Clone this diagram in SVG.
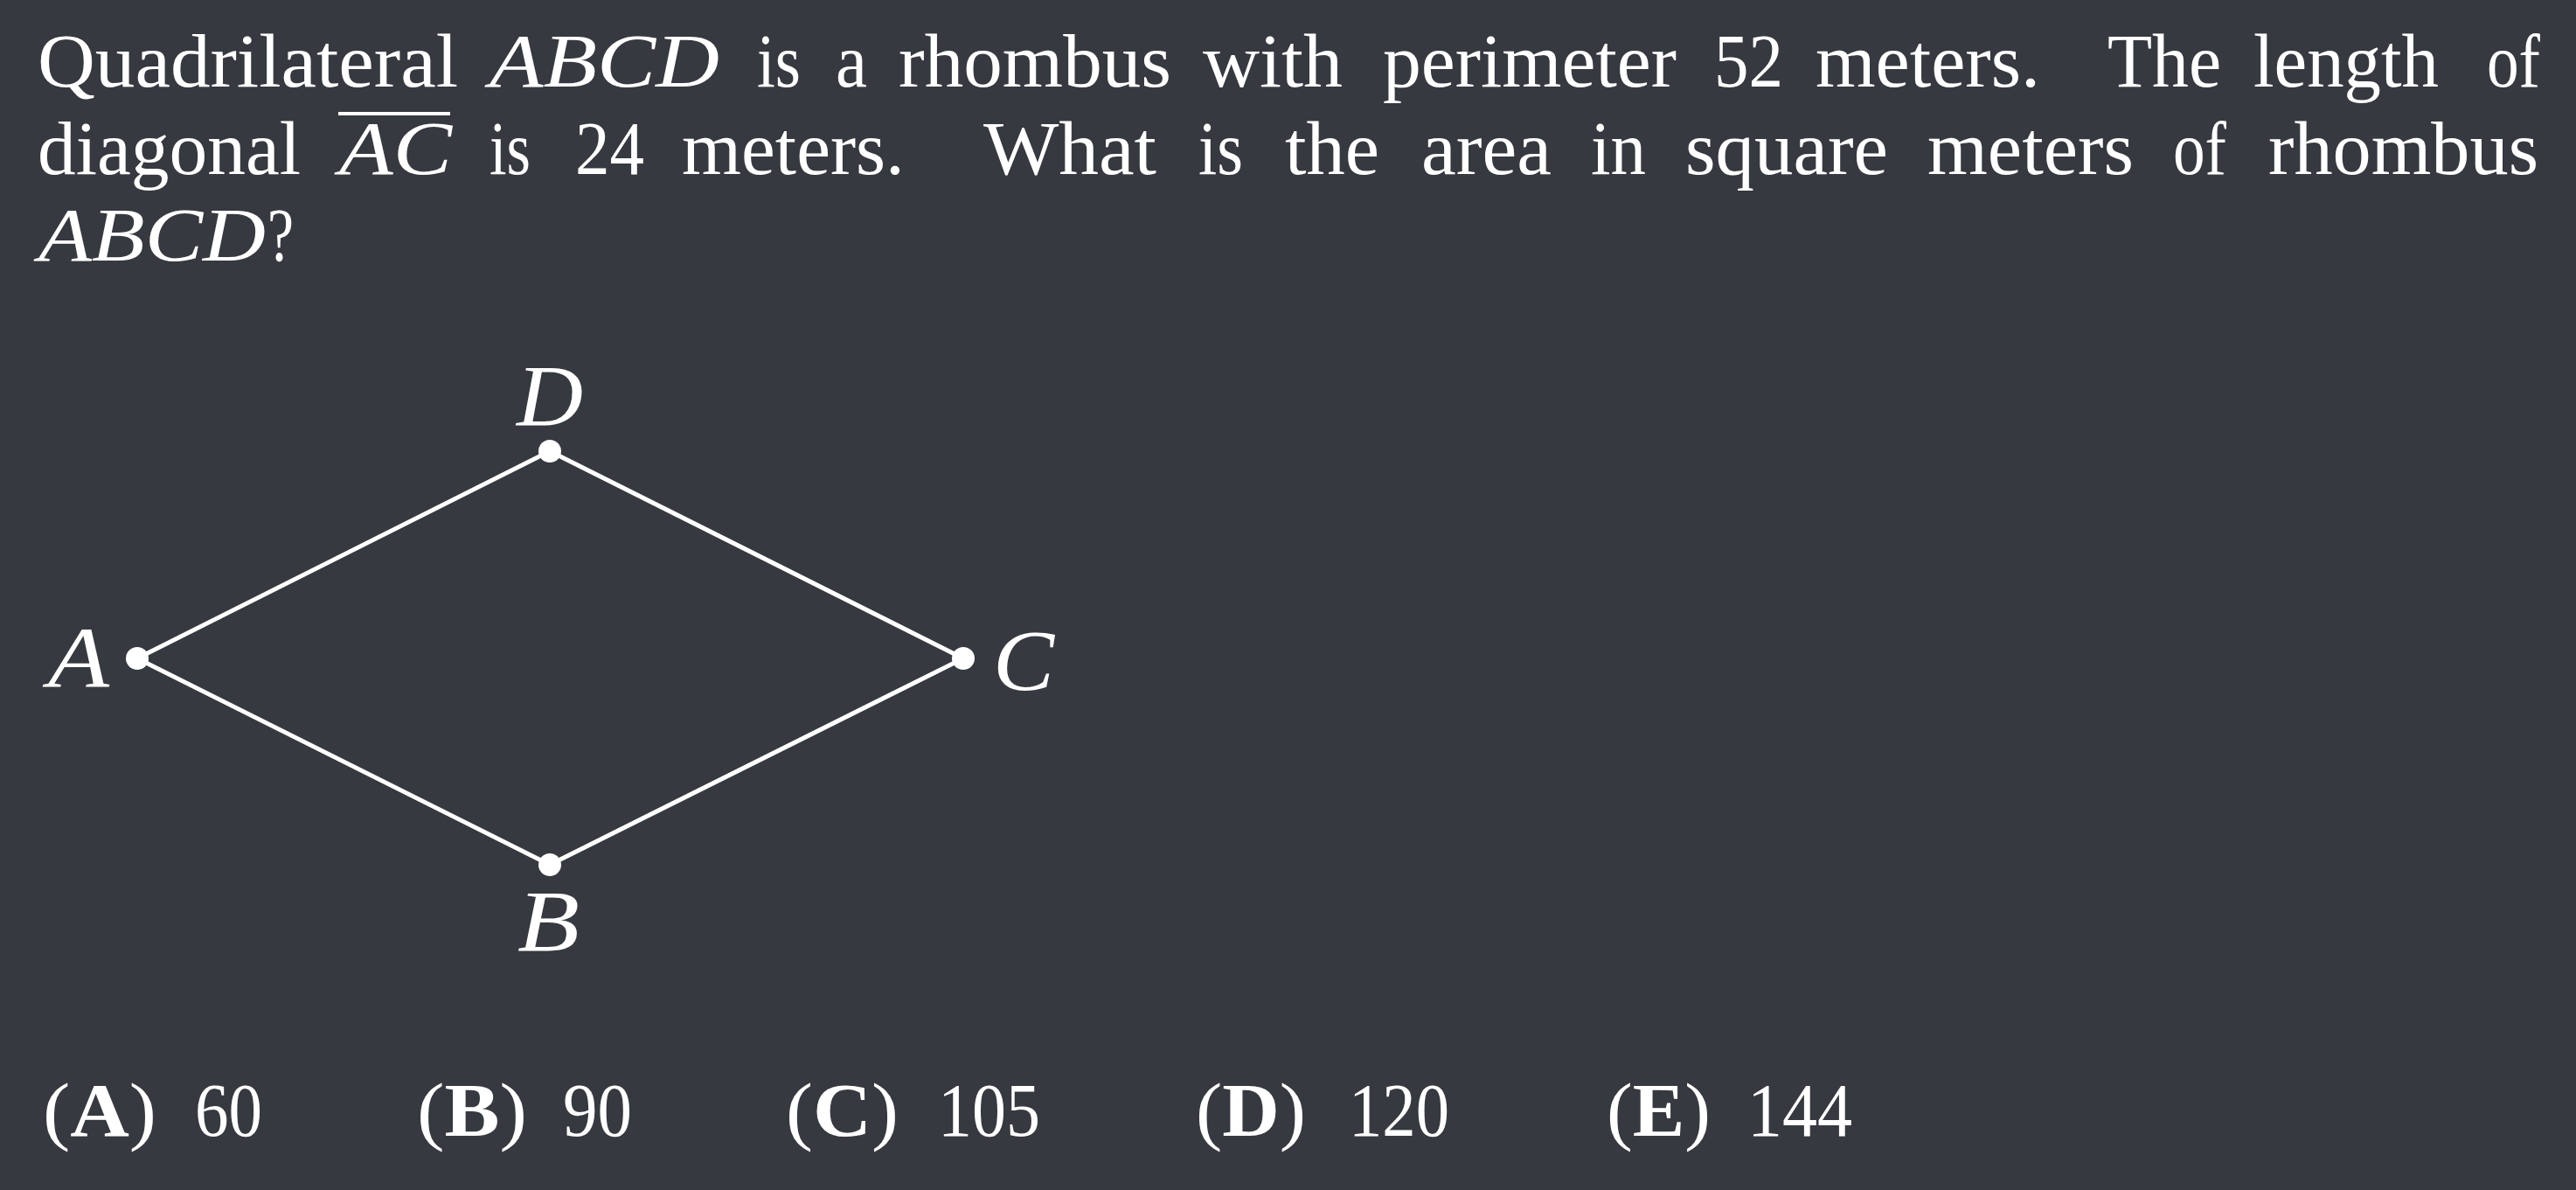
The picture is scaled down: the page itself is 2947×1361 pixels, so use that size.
<svg xmlns="http://www.w3.org/2000/svg" width="2947" height="1361" viewBox="0 0 2947 1361">
<style>
.t{font-family:"Liberation Serif","Times New Roman",serif;font-size:86px;fill:#ffffff}
.i{font-style:italic}
.b{font-weight:bold}
.lbl{font-family:"Liberation Serif","Times New Roman",serif;font-size:100px;font-style:italic;fill:#ffffff}
.edge{stroke:#ffffff;stroke-width:5;fill:none;stroke-linecap:round}
.dot{fill:#ffffff}
</style>
<rect x="0" y="0" width="2947" height="1361" fill="#36393F"/>
<g id="question" class="t">
<text x="43" y="99" textLength="481" lengthAdjust="spacingAndGlyphs">Quadrilateral</text>
<text x="560" y="99" class="i" textLength="263" lengthAdjust="spacingAndGlyphs">ABCD</text>
<text x="866" y="99" textLength="50" lengthAdjust="spacingAndGlyphs">is</text>
<text x="956" y="99" textLength="36" lengthAdjust="spacingAndGlyphs">a</text>
<text x="1028" y="99" textLength="312" lengthAdjust="spacingAndGlyphs">rhombus</text>
<text x="1376" y="99" textLength="160" lengthAdjust="spacingAndGlyphs">with</text>
<text x="1582" y="99" textLength="336" lengthAdjust="spacingAndGlyphs">perimeter</text>
<text x="1961" y="99" textLength="79" lengthAdjust="spacingAndGlyphs">52</text>
<text x="2077" y="99" textLength="257" lengthAdjust="spacingAndGlyphs">meters.</text>
<text x="2411" y="99" textLength="130" lengthAdjust="spacingAndGlyphs">The</text>
<text x="2578" y="99" textLength="212" lengthAdjust="spacingAndGlyphs">length</text>
<text x="2845" y="99" textLength="61" lengthAdjust="spacingAndGlyphs">of</text>

<text x="43" y="199" textLength="301" lengthAdjust="spacingAndGlyphs">diagonal</text>
<text x="388" y="199" class="i" textLength="129" lengthAdjust="spacingAndGlyphs">AC</text>
<rect x="387" y="128" width="128" height="4" fill="#ffffff"/>
<text x="560" y="199" textLength="47" lengthAdjust="spacingAndGlyphs">is</text>
<text x="658" y="199" textLength="79" lengthAdjust="spacingAndGlyphs">24</text>
<text x="780" y="199" textLength="255" lengthAdjust="spacingAndGlyphs">meters.</text>
<text x="1125" y="199" textLength="198" lengthAdjust="spacingAndGlyphs">What</text>
<text x="1371" y="199" textLength="51" lengthAdjust="spacingAndGlyphs">is</text>
<text x="1470" y="199" textLength="108" lengthAdjust="spacingAndGlyphs">the</text>
<text x="1626" y="199" textLength="149" lengthAdjust="spacingAndGlyphs">area</text>
<text x="1820" y="199" textLength="63" lengthAdjust="spacingAndGlyphs">in</text>
<text x="1928" y="199" textLength="232" lengthAdjust="spacingAndGlyphs">square</text>
<text x="2205" y="199" textLength="236" lengthAdjust="spacingAndGlyphs">meters</text>
<text x="2486" y="199" textLength="61" lengthAdjust="spacingAndGlyphs">of</text>
<text x="2595" y="199" textLength="309" lengthAdjust="spacingAndGlyphs">rhombus</text>

<text x="44" y="298" class="i" textLength="260" lengthAdjust="spacingAndGlyphs">ABCD</text>
<text x="306" y="298" textLength="30" lengthAdjust="spacingAndGlyphs">?</text>
</g>
<g id="connectors">
<line class="edge" x1="157" y1="753" x2="629" y2="516"/>
<line class="edge" x1="629" y1="516" x2="1102" y2="753"/>
<line class="edge" x1="1102" y1="753" x2="629" y2="989"/>
<line class="edge" x1="629" y1="989" x2="157" y2="753"/>
</g>
<g id="node-A">
<circle class="dot" cx="157" cy="753" r="13"/>
<text class="lbl" x="55" y="786" textLength="70" lengthAdjust="spacingAndGlyphs">A</text>
</g>
<g id="node-D">
<circle class="dot" cx="629" cy="516" r="13"/>
<text class="lbl" x="591" y="486" textLength="76" lengthAdjust="spacingAndGlyphs">D</text>
</g>
<g id="node-C">
<circle class="dot" cx="1102" cy="753" r="13"/>
<text class="lbl" x="1136" y="789" textLength="70" lengthAdjust="spacingAndGlyphs">C</text>
</g>
<g id="node-B">
<circle class="dot" cx="629" cy="989" r="13"/>
<text class="lbl" x="592" y="1087" textLength="71" lengthAdjust="spacingAndGlyphs">B</text>
</g>
<g id="choices" class="t">
<text x="49" y="1299" textLength="130" lengthAdjust="spacingAndGlyphs">(<tspan class="b">A</tspan>)</text>
<text x="223" y="1299" textLength="77" lengthAdjust="spacingAndGlyphs">60</text>
<text x="477" y="1299" textLength="126" lengthAdjust="spacingAndGlyphs">(<tspan class="b">B</tspan>)</text>
<text x="644" y="1299" textLength="79" lengthAdjust="spacingAndGlyphs">90</text>
<text x="899" y="1299" textLength="129" lengthAdjust="spacingAndGlyphs">(<tspan class="b">C</tspan>)</text>
<text x="1073" y="1299" textLength="117" lengthAdjust="spacingAndGlyphs">105</text>
<text x="1368" y="1299" textLength="126" lengthAdjust="spacingAndGlyphs">(<tspan class="b">D</tspan>)</text>
<text x="1543" y="1299" textLength="115" lengthAdjust="spacingAndGlyphs">120</text>
<text x="1838" y="1299" textLength="119" lengthAdjust="spacingAndGlyphs">(<tspan class="b">E</tspan>)</text>
<text x="1999" y="1299" textLength="120" lengthAdjust="spacingAndGlyphs">144</text>
</g>
</svg>
